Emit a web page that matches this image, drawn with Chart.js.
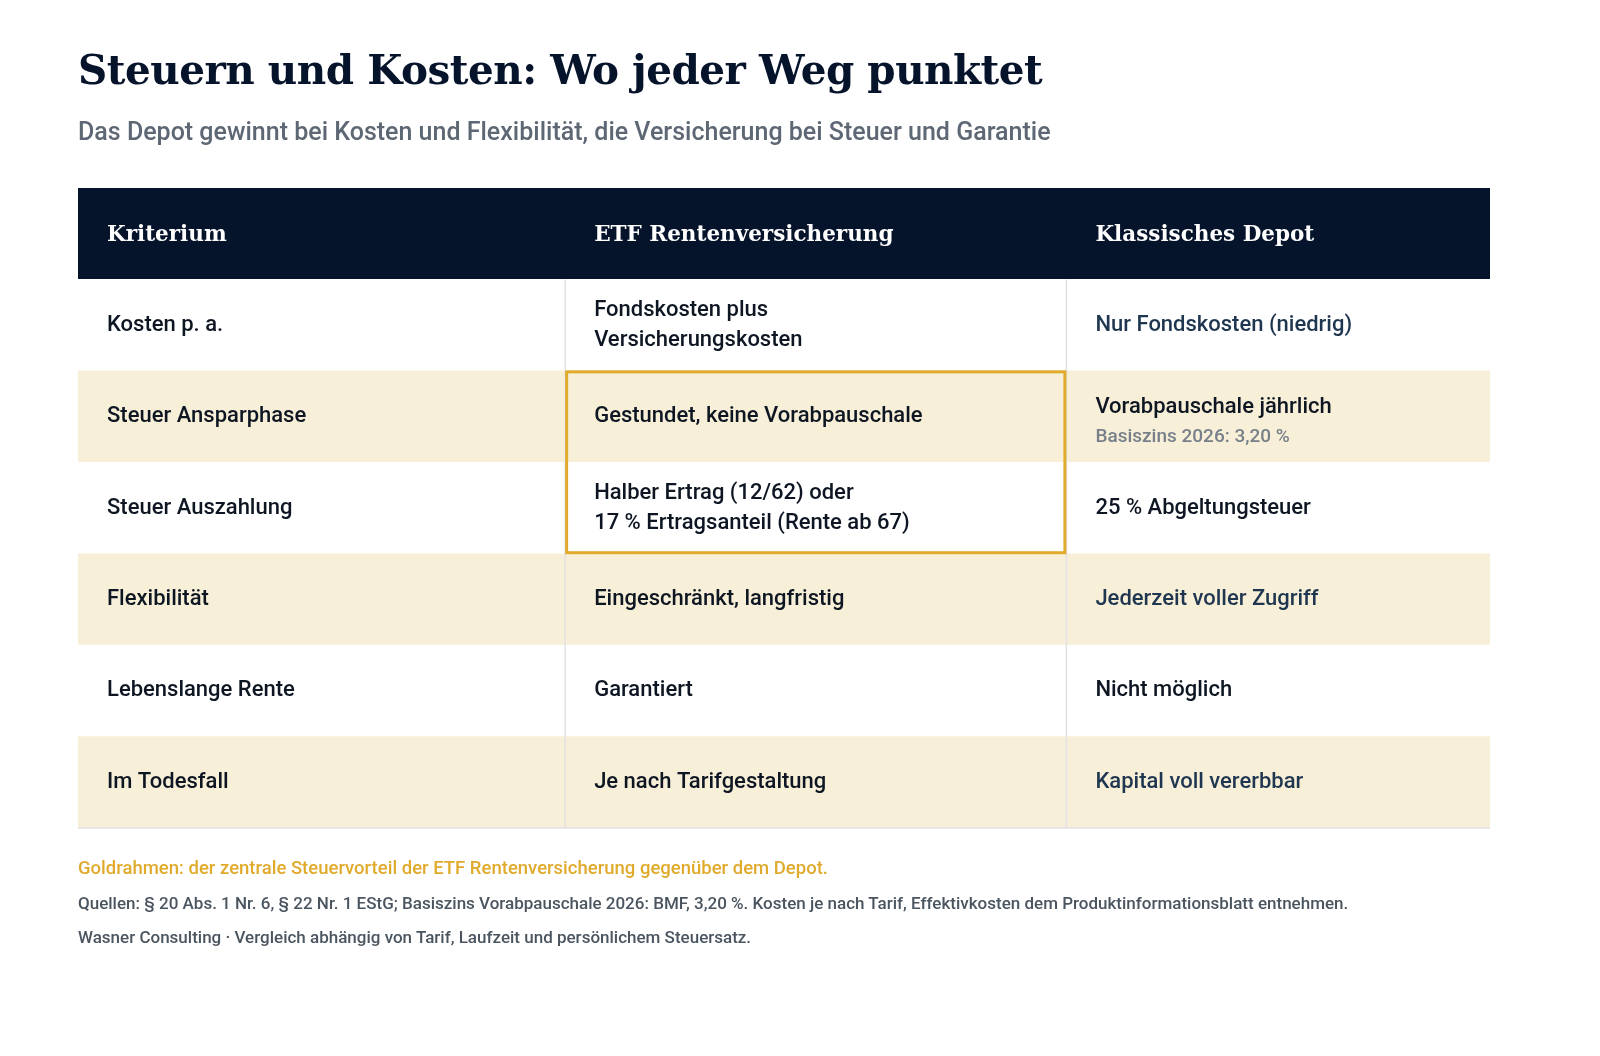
<!DOCTYPE html>
<html><head><meta charset="utf-8">
<script src="https://cdn.jsdelivr.net/npm/chart.js@4.4.1/dist/chart.umd.min.js"></script>
<style>
  html,body{margin:0;padding:0;background:#fff;width:1600px;height:1056px;overflow:hidden;font-family:Roboto,sans-serif}
  #wrap{position:relative;width:1600px;height:1056px}
  canvas{position:absolute;left:0;top:0}
  .t{position:absolute;left:78px;white-space:nowrap}
  #title{top:46px;font:bold 40.5px "DejaVu Serif",serif;color:#06142b;letter-spacing:-0.5px}
  #sub{top:117px;font:500 25px Roboto,sans-serif;color:#5d6874}
  .fn{font:500 17px Roboto,sans-serif;color:#4a5560}
  #fn1{top:857px;color:#e0ab2c;font-size:18.5px}
  #fn2{top:893px}
  #fn3{top:927px}
</style></head>
<body><div id="wrap">
<canvas id="c" width="1600" height="1056"></canvas>
<div class="t" id="title">Steuern und Kosten: Wo jeder Weg punktet</div>
<div class="t" id="sub">Das Depot gewinnt bei Kosten und Flexibilität, die Versicherung bei Steuer und Garantie</div>
<div class="t fn" id="fn1">Goldrahmen: der zentrale Steuervorteil der ETF Rentenversicherung gegenüber dem Depot.</div>
<div class="t fn" id="fn2">Quellen: § 20 Abs. 1 Nr. 6, § 22 Nr. 1 EStG; Basiszins Vorabpauschale 2026: BMF, 3,20 %. Kosten je nach Tarif, Effektivkosten dem Produktinformationsblatt entnehmen.</div>
<div class="t fn" id="fn3">Wasner Consulting · Vergleich abhängig von Tarif, Laufzeit und persönlichem Steuersatz.</div>
</div>
<script>
// table content
const headers = ["Kriterium", "ETF Rentenversicherung", "Klassisches Depot"];
const criteria = ["Kosten p. a.", "Steuer Ansparphase", "Steuer Auszahlung", "Flexibilität", "Lebenslange Rente", "Im Todesfall"];
const insurance = [
  ["Fondskosten plus", "Versicherungskosten"],
  ["Gestundet, keine Vorabpauschale"],
  ["Halber Ertrag (12/62) oder", "17 % Ertragsanteil (Rente ab 67)"],
  ["Eingeschränkt, langfristig"],
  ["Garantiert"],
  ["Je nach Tarifgestaltung"]
];
const depot = [
  ["Nur Fondskosten (niedrig)"],
  ["Vorabpauschale jährlich"],
  ["25 % Abgeltungsteuer"],
  ["Jederzeit voller Zugriff"],
  ["Nicht möglich"],
  ["Kapital voll vererbbar"]
];
const depotNotes = ["", "Basiszins 2026: 3,20 %", "", "", "", ""];
const depotWins = [true, false, false, true, false, true];
const highlightRows = [1, 2];

const rowLabels = ["header"].concat(criteria);
const colEdges = [0, 1.035, 2.1, 3];

const rowColors = rowLabels.map((r, i) => i === 0 ? "#06142b" : (i % 2 === 0 ? "#f8efd8" : "#ffffff"));

const tablePlugin = {
  id: "tableText",
  afterDatasetsDraw(chart) {
    const ctx = chart.ctx, xs = chart.scales.x, ys = chart.scales.y;
    const half = (ys.getPixelForValue(1) - ys.getPixelForValue(0)) / 2;
    const colX = colEdges.map(v => xs.getPixelForValue(v));
    ctx.save();
    // vertical dividers
    ctx.strokeStyle = "#e2e2e2"; ctx.lineWidth = 1.5;
    for (let c = 1; c < 3; c++) {
      ctx.beginPath();
      ctx.moveTo(colX[c], ys.getPixelForValue(0) + half);
      ctx.lineTo(colX[c], chart.chartArea.bottom);
      ctx.stroke();
    }
    ctx.beginPath();
    ctx.moveTo(colX[0], chart.chartArea.bottom); ctx.lineTo(colX[3], chart.chartArea.bottom);
    ctx.stroke();
    ctx.textBaseline = "middle";
    // header
    ctx.fillStyle = "#ffffff";
    ctx.font = "bold 21.5px 'DejaVu Serif', serif";
    headers.forEach((h, c) => ctx.fillText(h, colX[c] + 29, ys.getPixelForValue(0) + 2));
    // body
    const lh = 30;
    for (let r = 0; r < criteria.length; r++) {
      const yc = ys.getPixelForValue(r + 1);
      ctx.font = "500 22px Roboto, sans-serif";
      ctx.fillStyle = "#0d1622";
      ctx.fillText(criteria[r], colX[0] + 29, yc);
      const a = insurance[r];
      a.forEach((l, k) => ctx.fillText(l, colX[1] + 29, yc + (k - (a.length - 1) / 2) * lh));
      ctx.fillStyle = depotWins[r] ? "#1f3650" : "#0d1622";
      if (depotNotes[r]) {
        ctx.fillText(depot[r][0], colX[2] + 29, yc - 9);
        ctx.font = "500 19px Roboto, sans-serif";
        ctx.fillStyle = "#77808a";
        ctx.fillText(depotNotes[r], colX[2] + 29, yc + 21);
      } else {
        ctx.fillText(depot[r][0], colX[2] + 29, yc);
      }
    }
    // gold frame
    const top = ys.getPixelForValue(highlightRows[0] + 1) - half;
    const bot = ys.getPixelForValue(highlightRows[highlightRows.length - 1] + 1) + half;
    ctx.strokeStyle = "#e0ab2c"; ctx.lineWidth = 3;
    ctx.strokeRect(colX[1] + 1.5, top + 1, colX[2] - colX[1] - 3, bot - top - 2);
    ctx.restore();
  }
};

new Chart(document.getElementById("c"), {
  type: "bar",
  data: {
    labels: rowLabels,
    datasets: [{
      data: rowLabels.map(() => [0, 3]),
      backgroundColor: rowColors,
      borderWidth: 0,
      barPercentage: 1,
      categoryPercentage: 1
    }]
  },
  options: {
    indexAxis: "y",
    responsive: false,
    animation: false,
    layout: { padding: { left: 78, right: 110, top: 188, bottom: 228 } },
    scales: {
      x: { type: "linear", min: 0, max: 3, display: false },
      y: { type: "category", display: false, offset: true }
    },
    plugins: { legend: { display: false }, tooltip: { enabled: false } }
  },
  plugins: [tablePlugin]
});
</script>
</body></html>
